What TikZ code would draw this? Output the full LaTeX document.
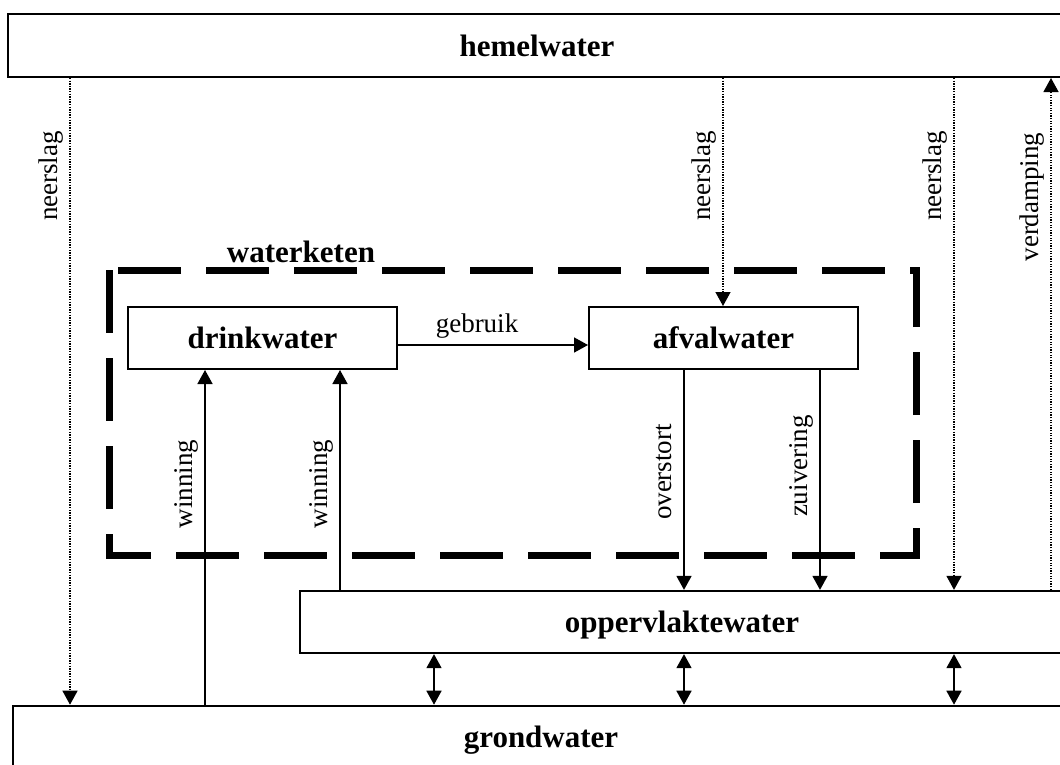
\documentclass[tikz,border=0pt]{standalone}
\usepackage{fontspec}
\setmainfont{Liberation Serif}
\usetikzlibrary{arrows.meta}
\begin{document}
\begin{tikzpicture}[x=1pt,y=-1pt,
  box/.style={draw, line width=2pt, inner sep=0pt, text height=21pt, text depth=0pt,
    font=\fontsize{31}{36}\selectfont\bfseries},
  lab/.style={rotate=90, anchor=base, inner sep=0pt, font=\fontsize{27}{32}\selectfont},
  tip/.style={-{Triangle[width=15pt,length=14pt]}},
  flow/.style={line width=1.6pt, tip},
  dflow/.style={line width=1.6pt, {Triangle[width=15pt,length=14pt]}-{Triangle[width=15pt,length=14pt]}},
  rain/.style={line width=1.3pt, dash pattern=on 1.3pt off 1.3pt, tip},
  chain/.style={line width=7pt, dash pattern=on 63pt off 25pt}
]
\clip (0,0) rectangle (1060,764);
\fill[white] (0,0) rectangle (1060,764);

% dashed waterketen frame
\coordinate (k1) at (109,270);
\coordinate (k2) at (109,555);
\coordinate (k3) at (916,555);
\coordinate (k4) at (916,270);
\draw[chain] (k1) -- (k2) -- (k3) -- (k4) -- cycle;
\node[anchor=base, inner sep=0pt, font=\fontsize{31}{36}\selectfont\bfseries] (keten) at (301,262) {waterketen};

% boxes
\node[box, minimum width=1058pt, minimum height=63pt] (hemel) at (537,45.5) {hemelwater};
\node[box, minimum width=269pt, minimum height=62pt] (drink) at (262.5,338) {drinkwater};
\node[box, minimum width=269pt, minimum height=62pt] (afval) at (723.5,338) {afvalwater};
\node[box, minimum width=764pt, minimum height=62.3pt] (opp) at (682,622) {oppervlaktewater};
\node[box, minimum width=1057pt, minimum height=61.6pt] (grond) at (541,736.5) {grondwater};

% x positions of connectors
\coordinate (xn1) at (70,0);
\coordinate (xn2) at (723,0);
\coordinate (xn3) at (954,0);
\coordinate (xv) at (1051,0);
\coordinate (xw1) at (205,0);
\coordinate (xw2) at (340,0);
\coordinate (xo) at (684,0);
\coordinate (xz) at (820,0);
\coordinate (xd1) at (434,0);
\coordinate (yg) at (0,345);

% precipitation / evaporation
\draw[rain] (hemel.south -| xn1) -- (grond.north -| xn1);
\draw[rain] (hemel.south -| xn2) -- (afval.north -| xn2);
\draw[rain] (hemel.south -| xn3) -- (opp.north -| xn3);
\draw[rain] (opp.north -| xv) -- (hemel.south -| xv);

% water chain flows
\draw[flow] (drink.east |- yg) -- (afval.west |- yg);
\draw[flow] (grond.north -| xw1) -- (drink.south -| xw1);
\draw[flow] (opp.north -| xw2) -- (drink.south -| xw2);
\draw[flow] (afval.south -| xo) -- (opp.north -| xo);
\draw[flow] (afval.south -| xz) -- (opp.north -| xz);

% exchange surface water / groundwater
\draw[dflow] (opp.south -| xd1) -- (grond.north -| xd1);
\draw[dflow] (opp.south -| xo) -- (grond.north -| xo);
\draw[dflow] (opp.south -| xn3) -- (grond.north -| xn3);

% labels
\node[lab] (l1) at (57,176) {neerslag};
\node[lab] (l2) at (710,176) {neerslag};
\node[lab] (l3) at (941,176) {neerslag};
\node[lab] (l4) at (1038,197) {verdamping};
\node[lab] (l5) at (192,484) {winning};
\node[lab] (l6) at (327,484) {winning};
\node[lab] (l7) at (671,472) {overstort};
\node[lab] (l8) at (807,466) {zuivering};
\node[anchor=base, inner sep=0pt, font=\fontsize{27}{32}\selectfont] (l9) at (477,332) {gebruik};
\end{tikzpicture}
\end{document}
